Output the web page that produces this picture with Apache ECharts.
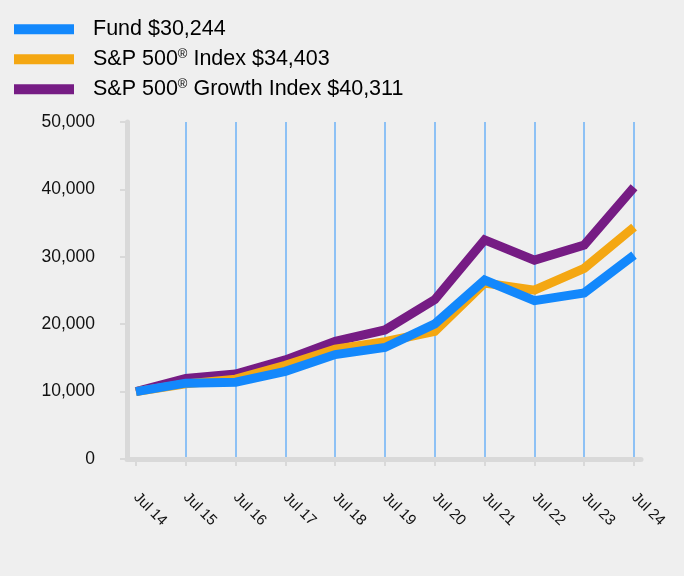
<!DOCTYPE html>
<html>
<head>
<meta charset="utf-8">
<script src="https://cdn.jsdelivr.net/npm/echarts@6/dist/echarts.min.js"></script>
<style>
html,body{margin:0;padding:0;background:#efefef;}
#chart{width:684px;height:576px;}
</style>
</head>
<body>
<div id="chart"></div>
<script>
var categories = ['Jul 14','Jul 15','Jul 16','Jul 17','Jul 18','Jul 19','Jul 20','Jul 21','Jul 22','Jul 23','Jul 24'];
var fundValues = [10000, 11250, 11400, 13000, 15500, 16550, 20050, 26550, 23500, 24650, 30244];
var spValues = [10000, 11150, 11850, 13900, 16300, 17400, 18950, 26100, 25050, 28300, 34403];
var growthValues = [10000, 11950, 12600, 14700, 17450, 19150, 23650, 32500, 29500, 31750, 40311];
var seriesNames = ['Fund $30,244', 'S&P 500® Index $34,403', 'S&P 500® Growth Index $40,311'];
var yTicks = [0, 10000, 20000, 30000, 40000, 50000];

function toPairs(arr){ return arr.map(function(v,i){ return [i, v]; }); }
var xIdx = categories.map(function(c,i){ return i; });

var chart = echarts.init(document.getElementById('chart'));
var lineW = 9;
var FONT = 'Liberation Sans, Arial, sans-serif';
function mkSeries(name, data, color, z){
  return {
    name: name, type: 'line', data: toPairs(data), symbol: 'none', z: z,
    lineStyle: {width: lineW, color: color, join: 'miter', cap: 'butt'},
    itemStyle: {color: color}, emphasis: {disabled: true}, animation: false
  };
}
chart.setOption({
  backgroundColor: '#efefef',
  animation: false,
  textStyle: {fontFamily: FONT},
  legend: {
    orient: 'vertical', left: 14, top: 18, padding: 0, icon: 'rect',
    itemWidth: 60, itemHeight: 10, itemGap: 7.5,
    data: seriesNames,
    selectedMode: false,
    formatter: function(n){ return n.replace('®', '{sup|®}'); },
    textStyle: {
      fontSize: 21.5, color: '#000', padding: [0,0,0,14], lineHeight: 22.5,
      fontFamily: FONT,
      rich: {sup: {fontSize: 13, color: '#000', padding: [0,0,9,0], fontFamily: FONT}}
    }
  },
  grid: {left: 127, right: 43, top: 122, bottom: 117, containLabel: false},
  xAxis: {
    type: 'value', min: -0.18, max: 10.14,
    axisLine: {show: true, lineStyle: {color: '#d9d9d9', width: 5}},
    axisTick: {show: true, customValues: xIdx, length: 7, lineStyle: {color: '#d9d9d9', width: 2}},
    axisLabel: {
      customValues: xIdx, rotate: -45, margin: 36, fontSize: 15, color: '#111',
      formatter: function(v){ return categories[Math.round(v)] || ''; }
    },
    splitLine: {show: true, showMinLine: false, showMaxLine: true,
      lineStyle: {color: '#6cb2f7', width: 1.5}}
  },
  yAxis: {
    type: 'value', min: yTicks[0], max: yTicks[yTicks.length-1], interval: 10000,
    axisLine: {show: true, onZero: false, lineStyle: {color: '#d9d9d9', width: 5}},
    axisTick: {show: true, length: 7, lineStyle: {color: '#d9d9d9', width: 2}},
    axisLabel: {fontSize: 17.5, color: '#111', margin: 32,
      formatter: function(v){ return v.toLocaleString('en-US'); }},
    splitLine: {show: false}
  },
  series: [
    mkSeries(seriesNames[0], fundValues, '#1388fc', 5),
    mkSeries(seriesNames[1], spValues, '#f4a712', 4),
    mkSeries(seriesNames[2], growthValues, '#761c84', 3)
  ]
});
</script>
</body>
</html>
